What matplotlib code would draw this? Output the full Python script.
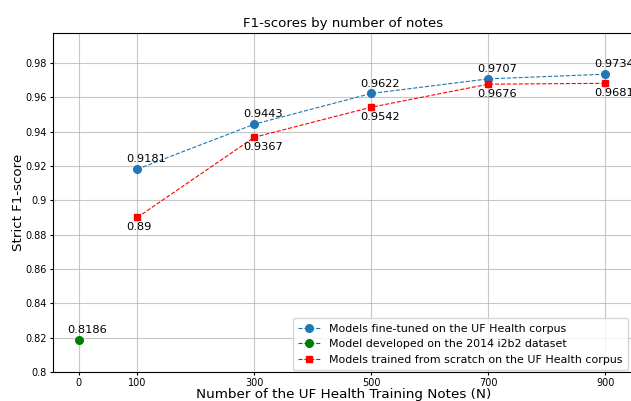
import matplotlib
matplotlib.use("Agg")
import matplotlib.pyplot as plt

# values
notes = [100, 300, 500, 700, 900]
finetuned_f1 = [0.9181, 0.9443, 0.9622, 0.9707, 0.9734]
scratch_f1 = [0.89, 0.9367, 0.9542, 0.9676, 0.9681]
i2b2_notes = [0]
i2b2_f1 = [0.8186]

xticks = [0, 100, 300, 500, 700, 900]
yticks = [0.8, 0.82, 0.84, 0.86, 0.88, 0.9, 0.92, 0.94, 0.96, 0.98]
ytick_labels = ["0.8", "0.82", "0.84", "0.86", "0.88", "0.9", "0.92", "0.94", "0.96", "0.98"]

W, H = 631, 401
fig = plt.figure(figsize=(W / 100, H / 100), dpi=100)
# axes run a little past the right edge, as in the cropped original
ax = fig.add_axes([52.5 / W, 1 - 372 / H, (634 - 52.5) / W, (372 - 33) / H])

ax.plot(notes, finetuned_f1, "--o", color="#1f77b4", lw=0.8, ms=5.5,
        label="Models fine-tuned on the UF Health corpus")
ax.plot(i2b2_notes, i2b2_f1, "--o", color="green", lw=0.8, ms=5.5,
        label="Model developed on the 2014 i2b2 dataset")
ax.plot(notes, scratch_f1, "--s", color="red", lw=0.8, ms=5,
        label="Models trained from scratch on the UF Health corpus")

# value labels: left-aligned a little left of the point
for x, y in zip(notes, finetuned_f1):
    ax.annotate(f"{y:g}", (x, y), xytext=(-8.3, 3.4), textcoords="offset points",
                ha="left", va="bottom", fontsize=8.2)
for x, y in zip(notes, scratch_f1):
    ax.annotate(f"{y:g}", (x, y), xytext=(-8.3, -3.4), textcoords="offset points",
                ha="left", va="top", fontsize=8.2)
for x, y in zip(i2b2_notes, i2b2_f1):
    ax.annotate(f"{y:g}", (x, y), xytext=(-8.3, 3.4), textcoords="offset points",
                ha="left", va="bottom", fontsize=8.2)

ax.set_xlim(-45, 949)
ax.set_ylim(0.8, 0.9974)
ax.set_xticks(xticks)
ax.set_yticks(yticks)
ax.set_yticklabels(ytick_labels)
ax.tick_params(labelsize=7, length=2.5, pad=1.5)
ax.grid(True, color="#b0b0b0", lw=0.8, alpha=0.7)
ax.set_axisbelow(True)

ax.set_title("F1-scores by number of notes", fontsize=9.6, pad=4)
ax.set_xlabel("Number of the UF Health Training Notes (N)", fontsize=9.7, labelpad=0)
ax.set_ylabel("Strict F1-score", fontsize=9.6, labelpad=0)

ax.legend(loc="lower right", bbox_to_anchor=(628 / W, 1 - 370 / H),
          bbox_transform=fig.transFigure, fontsize=7.9, borderaxespad=0,
          handlelength=2.0, borderpad=0.5, labelspacing=0.5)

fig.savefig("out.png", dpi=100)
